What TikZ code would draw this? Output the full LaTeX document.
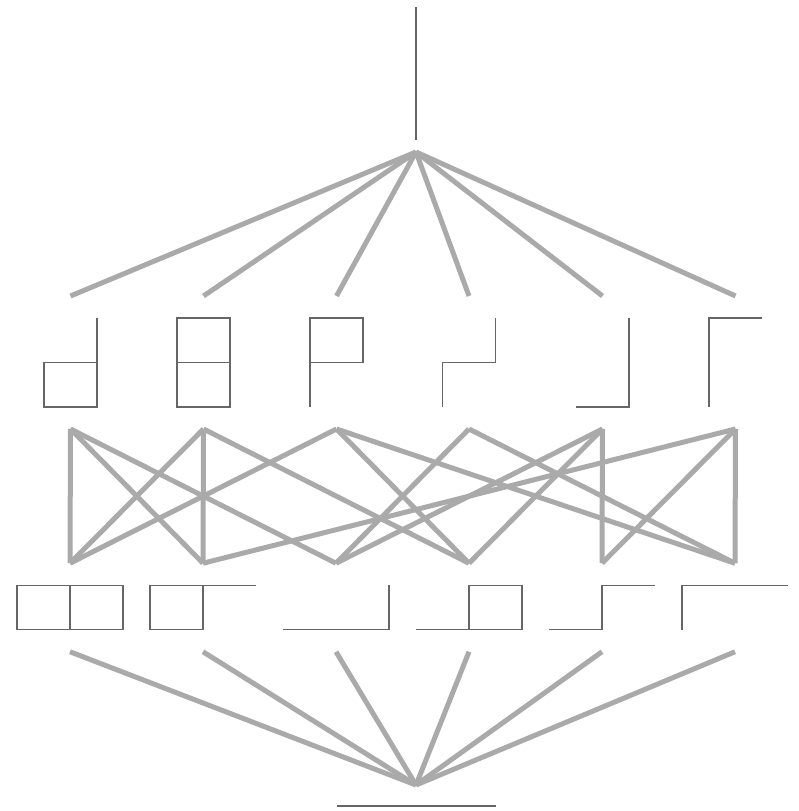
\documentclass[tikz,border=0pt]{standalone}
\usepackage{xcolor}
\usepackage{tikz}
\usetikzlibrary{positioning}
\definecolor{ink}{HTML}{666666}
\definecolor{linkgray}{HTML}{AAAAAA}

\begin{document}
\begin{tikzpicture}[
  x=1pt, y=1pt,
  slot/.style={rectangle, inner sep=0pt, outer xsep=0pt, outer ysep=22pt},
  tall/.style={slot, minimum width=53pt, minimum height=89pt},
  wide/.style={slot, minimum width=106pt, minimum height=44.5pt},
  cell/.style={x=53pt, y=44.5pt},
  glyph/.style={line width=1.3pt, draw=ink},
  link/.style={line width=5pt, draw=linkgray},
]
\useasboundingbox (0,0) rectangle (799,811);

%% Top and bottom
\node[slot, minimum width=0pt, minimum height=133pt, outer ysep=12pt] (top) at (416,737.5) {};
\node[slot, minimum width=159pt, minimum height=0pt, outer ysep=21pt] (bot) at (416,5) {};

%% Row 1 — tall glyphs
\node[tall] (a1) at (70.5,448.5) {};
\node[tall] (a2) at (203.5,448.5) {};
\node[tall] (a3) at (336.5,448.5) {};
\node[tall] (a4) at (469,448.5) {};
\node[tall] (a5) at (602.5,448.5) {};
\node[tall] (a6) at (735.5,448.5) {};

%% Row 2 — wide glyphs
\node[wide] (b1) at (70,203.5) {};
\node[wide] (b2) at (203,203.5) {};
\node[wide] (b3) at (336,203.5) {};
\node[wide] (b4) at (469,203.5) {};
\node[wide] (b5) at (602,203.5) {};
\node[wide] (b6) at (735,203.5) {};

%% Glyphs
\draw[glyph, shift={(top.center)}, cell] (0,-1.5) -- (0,1.5);
\draw[glyph, shift={(bot.center)}, cell] (-1.5,0) -- (1.5,0);

\draw[glyph, shift={(a1.center)}, cell] (0.5,1) -- (0.5,-1) -- (-0.5,-1) -- (-0.5,0) -- (0.5,0);
\draw[glyph, shift={(a2.center)}, cell] (-0.5,-1) rectangle (0.5,1) (-0.5,0) -- (0.5,0);
\draw[glyph, shift={(a3.center)}, cell] (-0.5,-1) -- (-0.5,1) -- (0.5,1) -- (0.5,0) -- (-0.5,0);
\draw[glyph, shift={(a4.center)}, cell] (-0.5,-1) -- (-0.5,0) -- (0.5,0) -- (0.5,1);
\draw[glyph, shift={(a5.center)}, cell] (-0.5,-1) -- (0.5,-1) -- (0.5,1);
\draw[glyph, shift={(a6.center)}, cell] (-0.5,-1) -- (-0.5,1) -- (0.5,1);

\draw[glyph, shift={(b1.center)}, cell] (-1,-0.5) rectangle (1,0.5) (0,-0.5) -- (0,0.5);
\draw[glyph, shift={(b2.center)}, cell] (-1,-0.5) rectangle (0,0.5) (0,0.5) -- (1,0.5);
\draw[glyph, shift={(b3.center)}, cell] (-1,-0.5) -- (1,-0.5) -- (1,0.5);
\draw[glyph, shift={(b4.center)}, cell] (-1,-0.5) -- (0,-0.5) (0,-0.5) rectangle (1,0.5);
\draw[glyph, shift={(b5.center)}, cell] (-1,-0.5) -- (0,-0.5) -- (0,0.5) -- (1,0.5);
\draw[glyph, shift={(b6.center)}, cell] (-1,-0.5) -- (-1,0.5) -- (1,0.5);

%% Top fan
\draw[link] (top.south) -- (a1.north);
\draw[link] (top.south) -- (a2.north);
\draw[link] (top.south) -- (a3.north);
\draw[link] (top.south) -- (a4.north);
\draw[link] (top.south) -- (a5.north);
\draw[link] (top.south) -- (a6.north);

%% Middle links
\draw[link] (a1.south) -- (b1.north);
\draw[link] (a1.south) -- (b2.north);
\draw[link] (a1.south) -- (b3.north);
\draw[link] (a2.south) -- (b1.north);
\draw[link] (a2.south) -- (b2.north);
\draw[link] (a2.south) -- (b4.north);
\draw[link] (a3.south) -- (b1.north);
\draw[link] (a3.south) -- (b4.north);
\draw[link] (a3.south) -- (b6.north);
\draw[link] (a4.south) -- (b3.north);
\draw[link] (a4.south) -- (b6.north);
\draw[link] (a5.south) -- (b3.north);
\draw[link] (a5.south) -- (b4.north);
\draw[link] (a5.south) -- (b5.north);
\draw[link] (a6.south) -- (b2.north);
\draw[link] (a6.south) -- (b5.north);
\draw[link] (a6.south) -- (b6.north);

%% Bottom fan
\draw[link] (b1.south) -- (bot.north);
\draw[link] (b2.south) -- (bot.north);
\draw[link] (b3.south) -- (bot.north);
\draw[link] (b4.south) -- (bot.north);
\draw[link] (b5.south) -- (bot.north);
\draw[link] (b6.south) -- (bot.north);

\end{tikzpicture}
\end{document}
